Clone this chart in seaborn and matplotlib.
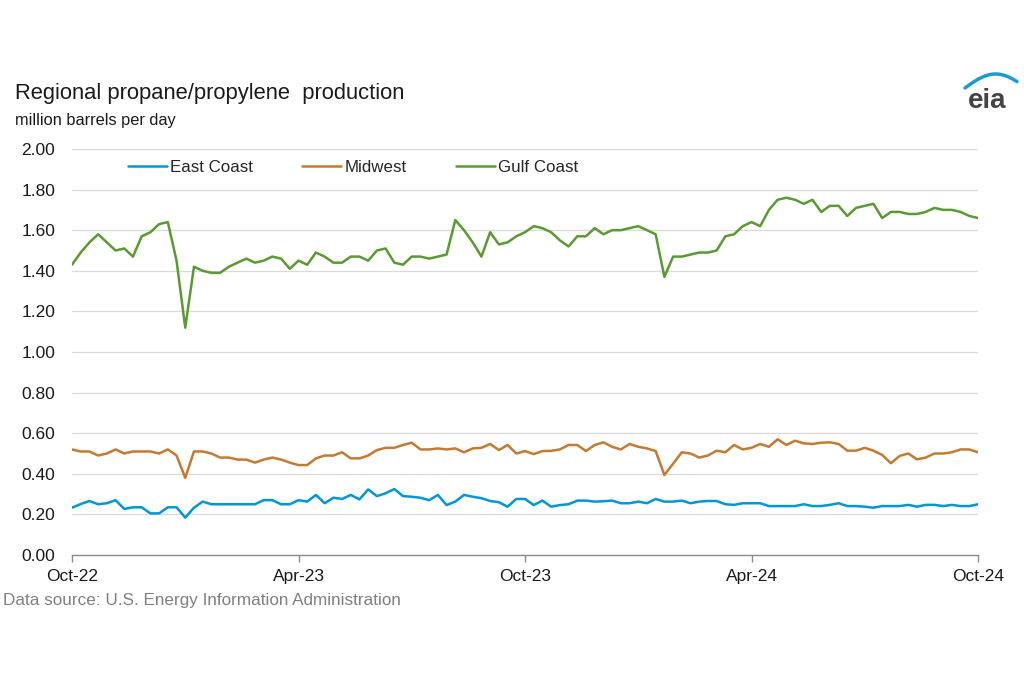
import matplotlib
matplotlib.use("Agg")
import matplotlib.pyplot as plt
import seaborn as sns
import numpy as np
import pandas as pd

# weekly values, Oct-22 .. Oct-24 (million barrels per day)
east_coast = [0.233, 0.251, 0.266, 0.25, 0.255, 0.27, 0.227, 0.235, 0.235, 0.205,
              0.205, 0.235, 0.235, 0.184, 0.233, 0.263, 0.25, 0.25, 0.25, 0.25,
              0.25, 0.25, 0.27, 0.27, 0.25, 0.25, 0.27, 0.263, 0.296, 0.255,
              0.282, 0.276, 0.296, 0.274, 0.323, 0.29, 0.304, 0.325, 0.29, 0.287,
              0.282, 0.27, 0.296, 0.246, 0.263, 0.296, 0.287, 0.28, 0.266, 0.26,
              0.238, 0.276, 0.276, 0.246, 0.268, 0.238, 0.246, 0.25, 0.268, 0.268,
              0.263, 0.265, 0.268, 0.255, 0.255, 0.263, 0.255, 0.276, 0.263, 0.263,
              0.268, 0.255, 0.263, 0.266, 0.266, 0.25, 0.247, 0.255, 0.255, 0.255,
              0.241, 0.241, 0.241, 0.241, 0.25, 0.241, 0.241, 0.247, 0.255, 0.241,
              0.241, 0.238, 0.233, 0.241, 0.241, 0.241, 0.247, 0.238, 0.247, 0.247,
              0.241, 0.247, 0.241, 0.241, 0.25]
midwest = [0.52, 0.51, 0.51, 0.49, 0.50, 0.52, 0.50, 0.51, 0.51, 0.51,
           0.50, 0.52, 0.49, 0.38, 0.51, 0.51, 0.50, 0.48, 0.48, 0.47,
           0.47, 0.455, 0.47, 0.48, 0.47, 0.455, 0.443, 0.443, 0.476, 0.49,
           0.49, 0.506, 0.476, 0.476, 0.49, 0.517, 0.528, 0.528, 0.542, 0.553,
           0.52, 0.52, 0.525, 0.52, 0.525, 0.506, 0.525, 0.528, 0.547, 0.517,
           0.542, 0.50, 0.512, 0.497, 0.512, 0.513, 0.52, 0.542, 0.542, 0.512,
           0.542, 0.555, 0.533, 0.52, 0.547, 0.533, 0.525, 0.512, 0.394, 0.45,
           0.506, 0.50, 0.48, 0.49, 0.514, 0.506, 0.542, 0.52, 0.528, 0.547,
           0.533, 0.57, 0.542, 0.563, 0.55, 0.547, 0.553, 0.555, 0.547, 0.514,
           0.514, 0.528, 0.514, 0.493, 0.452, 0.488, 0.50, 0.471, 0.48, 0.50,
           0.50, 0.506, 0.52, 0.52, 0.506]
gulf_coast = [1.43, 1.49, 1.54, 1.58, 1.54, 1.50, 1.51, 1.47, 1.57, 1.59,
              1.63, 1.64, 1.45, 1.12, 1.42, 1.40, 1.39, 1.39, 1.42, 1.44,
              1.46, 1.44, 1.45, 1.47, 1.46, 1.41, 1.45, 1.43, 1.49, 1.47,
              1.44, 1.44, 1.47, 1.47, 1.45, 1.50, 1.51, 1.44, 1.43, 1.47,
              1.47, 1.46, 1.47, 1.48, 1.65, 1.60, 1.54, 1.47, 1.59, 1.53,
              1.54, 1.57, 1.59, 1.62, 1.61, 1.59, 1.55, 1.52, 1.57, 1.57,
              1.61, 1.58, 1.60, 1.60, 1.61, 1.62, 1.60, 1.58, 1.37, 1.47,
              1.47, 1.48, 1.49, 1.49, 1.50, 1.57, 1.58, 1.62, 1.64, 1.62,
              1.70, 1.75, 1.76, 1.75, 1.73, 1.75, 1.69, 1.72, 1.72, 1.67,
              1.71, 1.72, 1.73, 1.66, 1.69, 1.69, 1.68, 1.68, 1.69, 1.71,
              1.70, 1.70, 1.69, 1.67, 1.66]

tick_weeks = [0, 26, 52, 78, 104]
tick_labels = ["Oct-22", "Apr-23", "Oct-23", "Apr-24", "Oct-24"]
regions = ["East Coast", "Midwest", "Gulf Coast"]
colors = ["#0096d7", "#c47a30", "#5a9a32"]

week = np.arange(len(gulf_coast))
df = pd.DataFrame({"week": np.tile(week, 3),
                   "value": east_coast + midwest + gulf_coast,
                   "region": np.repeat(regions, len(week))})

sns.set_theme(style="white")
plt.rcParams["font.family"] = ["Liberation Sans", "DejaVu Sans"]

fig = plt.figure(figsize=(10.24, 6.83), dpi=100)
ax = fig.add_axes([72 / 1024, 1 - 555 / 683, 906 / 1024, 406 / 683])

sns.lineplot(data=df, x="week", y="value", hue="region", hue_order=regions,
             palette=colors, linewidth=1.8, ax=ax, legend=False)

ax.set_xlim(0, 104)
ax.set_ylim(0, 2.0)
ax.set_yticks(np.arange(0, 2.01, 0.2))
ax.set_yticklabels([f"{v:.2f}" for v in np.arange(0, 2.01, 0.2)])
ax.set_xticks(tick_weeks)
ax.set_xticklabels(tick_labels)
ax.set_xlabel("")
ax.set_ylabel("")
ax.yaxis.grid(True, color="#dadada", linewidth=0.9)
ax.set_axisbelow(True)
for s in ["left", "right", "top"]:
    ax.spines[s].set_visible(False)
ax.spines["bottom"].set_color("#8c8c8c")
ax.spines["bottom"].set_linewidth(1.0)
ax.tick_params(axis="y", length=0, pad=12, labelsize=12.5, labelcolor="#1a1a1a")
ax.tick_params(axis="x", length=5, width=1.0, color="#8c8c8c", direction="out",
               pad=5, labelsize=12.5, labelcolor="#1a1a1a", bottom=True)

handles = [plt.Line2D([], [], color=c, linewidth=1.8) for c in colors]
fig.legend(handles, regions, loc="center", bbox_to_anchor=(0.345, 1 - 167 / 683),
           ncol=3, frameon=False, fontsize=12.2, handlelength=2.3,
           handletextpad=0.2, columnspacing=2.9)

fig.text(15 / 1024, 1 - 94 / 683, "Regional propane/propylene  production",
         fontsize=15.8, color="#1a1a1a", va="center", ha="left")
fig.text(15 / 1024, 1 - 121 / 683, "million barrels per day",
         fontsize=11.8, color="#1a1a1a", va="center", ha="left")
fig.text(3 / 1024, 1 - 601 / 683, "Data source: U.S. Energy Information Administration",
         fontsize=12.3, color="#808080", va="center", ha="left")

# eia logo
fig.text(987 / 1024, 1 - 101 / 683, "eia", fontsize=20, fontweight="bold",
         color="#444444", va="center", ha="center")
logo = fig.add_axes([960 / 1024, 1 - 100 / 683, 60 / 1024, 30 / 683])
t = np.linspace(0, 1, 50)
logo.plot(965 + 52 * t, 88 - 14 * np.sin(np.pi * t * 0.85), color="#1a9ad6", linewidth=2.5)
logo.set_xlim(960, 1020)
logo.set_ylim(100, 70)
logo.axis("off")

fig.savefig("out.png", dpi=100)
